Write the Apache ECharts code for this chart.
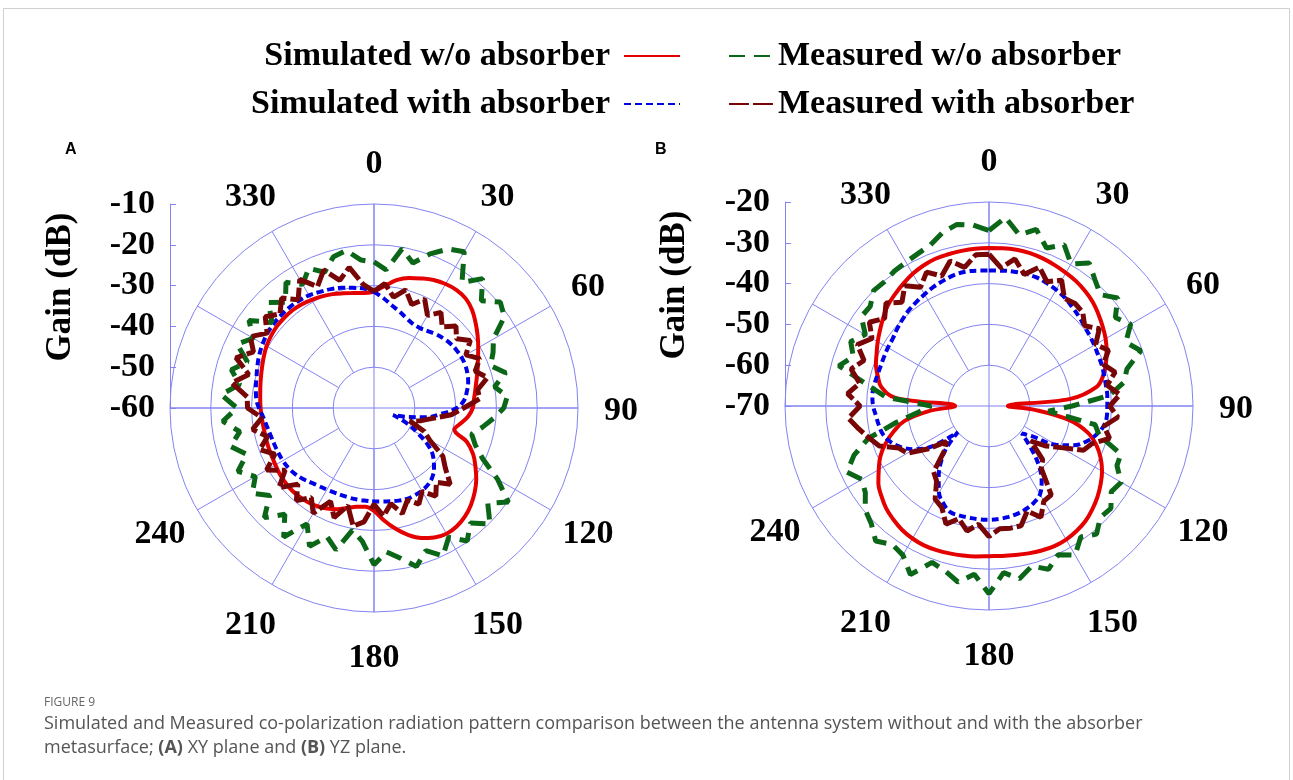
<!DOCTYPE html>
<html>
<head>
<meta charset="utf-8">
<title>Figure 9 - co-polarization radiation pattern</title>
<script src="https://cdn.jsdelivr.net/npm/echarts@6/dist/echarts.min.js"></script>
<style>
  html, body { margin: 0; padding: 0; background: #fff; }
  #chart { width: 1293px; height: 780px; }
</style>
</head>
<body>
<div id="chart"></div>
<script>
// sample angles (deg, clockwise from top), 5 deg step, closed at 360
const angles = [
  0, 5, 10, 15, 20, 25, 30, 35, 40, 45,
  50, 55, 60, 65, 70, 75, 80, 85, 90, 95,
  100, 105, 110, 115, 120, 125, 130, 135, 140, 145,
  150, 155, 160, 165, 170, 175, 180, 185, 190, 195,
  200, 205, 210, 215, 220, 225, 230, 235, 240, 245,
  250, 255, 260, 265, 270, 275, 280, 285, 290, 295,
  300, 305, 310, 315, 320, 325, 330, 335, 340, 345,
  350, 355, 360
]
// angle tick labels printed round the plots (270 and 300 sit under the gain scale)
const angleLabels = [0, 30, 60, 90, 120, 150, 180, 210, 240, 330]

// ---- (A) XY plane, gain in dB ----
const simNoAbsA = [
  -31.5, -30.0, -28.2, -27.0, -26.2, -25.4, -24.9, -24.7, -25.0, -26.0,
  -27.5, -29.0, -30.5, -31.9, -33.0, -34.0, -34.8, -35.4, -35.8, -36.8,
  -38.4, -39.6, -35.8, -33.2, -31.3, -29.4, -27.8, -26.4, -25.3, -24.6,
  -24.4, -25.0, -26.1, -27.8, -30.0, -32.4, -34.8, -35.7, -35.4, -34.6,
  -33.6, -32.8, -32.2, -31.8, -31.6, -31.5, -31.6, -31.8, -32.1, -32.3,
  -32.4, -32.5, -32.5, -32.4, -32.2, -32.0, -31.7, -31.3, -30.8, -30.2,
  -29.6, -29.2, -28.9, -28.8, -28.8, -29.0, -29.4, -29.8, -30.3, -30.9,
  -31.4, -31.7, -31.5
]
const simAbsA = [
  -31.5, -33.0, -34.5, -35.6, -36.6, -37.3, -37.4, -37.0, -36.4, -35.9,
  -35.5, -35.3, -35.2, -35.3, -35.6, -36.1, -36.9, -37.8, -39.7, -43.5,
  -47.0, -51.5, -55.0, -51.0, -47.5, -43.6, -41.0, -39.2, -37.8, -37.0,
  -36.6, -36.4, -36.3, -36.5, -36.8, -37.0, -37.1, -37.2, -37.2, -37.2,
  -37.2, -37.1, -36.9, -36.6, -36.1, -35.4, -34.8, -34.4, -34.2, -34.1,
  -34.0, -33.8, -33.4, -32.8, -31.8, -31.0, -30.6, -30.2, -29.6, -29.0,
  -28.5, -28.1, -27.9, -27.8, -27.8, -27.9, -28.1, -28.6, -29.0, -29.5,
  -30.1, -30.6, -31.5
]
const measNoAbsA = [
  -24.2, -26.0, -20.4, -23.2, -19.8, -17.0, -15.8, -22.4, -18.6, -22.8,
  -19.6, -21.0, -26.2, -27.8, -29.6, -26.6, -30.0, -27.2, -28.2, -30.6,
  -33.0, -35.2, -33.6, -30.6, -25.0, -19.8, -23.6, -19.8, -23.2, -20.2,
  -23.4, -20.0, -22.8, -19.8, -22.6, -24.6, -21.6, -27.2, -29.6, -24.0,
  -26.4, -22.6, -27.2, -21.4, -26.0, -22.0, -26.6, -23.6, -26.4, -23.2,
  -26.8, -23.6, -26.6, -22.8, -26.4, -22.4, -26.6, -23.8, -27.0, -23.0,
  -25.8, -22.6, -27.4, -23.4, -26.2, -22.4, -25.0, -22.2, -24.6, -21.6,
  -20.8, -23.6, -24.2
]
const measAbsA = [
  -31.4, -29.4, -32.4, -30.0, -33.0, -30.6, -33.8, -31.4, -34.0, -31.6,
  -33.6, -31.2, -34.0, -31.4, -33.6, -31.2, -34.2, -34.0, -38.0, -41.0,
  -45.4, -48.0, -50.6, -46.4, -44.2, -39.4, -37.2, -33.6, -36.2, -33.6,
  -36.4, -34.0, -36.0, -33.2, -36.2, -33.4, -36.4, -32.0, -30.6, -35.2,
  -31.4, -34.8, -30.2, -33.2, -30.4, -33.6, -29.6, -33.4, -29.6, -33.2,
  -30.2, -33.0, -29.8, -32.4, -29.0, -28.8, -24.6, -28.2, -24.0, -27.4,
  -25.0, -28.0, -25.2, -27.4, -24.8, -27.6, -23.6, -27.2, -24.0, -27.6,
  -25.0, -29.6, -31.4
]

// ---- (B) YZ plane, gain in dB ----
const simNoAbsB = [
  -31.3, -31.2, -31.1, -31.2, -31.5, -31.9, -32.3, -32.7, -33.3, -34.0,
  -35.0, -36.0, -37.0, -38.2, -39.5, -41.0, -43.3, -50.0, -65.4, -58.5,
  -50.0, -45.0, -42.0, -39.8, -38.0, -36.6, -35.3, -34.2, -33.2, -32.6,
  -32.2, -32.1, -32.3, -32.6, -32.9, -33.1, -33.2, -33.0, -32.8, -32.6,
  -32.4, -32.3, -32.5, -32.9, -33.6, -34.4, -35.6, -36.9, -38.8, -40.6,
  -43.0, -45.8, -49.0, -55.0, -61.7, -47.0, -43.2, -41.8, -40.5, -39.6,
  -38.5, -37.4, -36.2, -35.0, -34.2, -33.4, -32.6, -32.0, -31.6, -31.5,
  -31.4, -31.3, -31.3
]
const simAbsB = [
  -36.8, -36.7, -36.5, -36.4, -36.4, -36.7, -37.1, -37.6, -38.3, -38.9,
  -39.5, -39.9, -40.2, -40.5, -40.6, -40.8, -40.9, -40.9, -41.0, -41.0,
  -41.5, -42.8, -44.6, -47.2, -51.0, -57.0, -59.5, -55.5, -51.0, -47.5,
  -45.0, -43.9, -43.2, -42.7, -42.4, -42.2, -42.1, -42.1, -42.2, -42.2,
  -42.3, -43.6, -45.5, -48.5, -51.5, -55.0, -60.0, -52.5, -48.8, -46.2,
  -44.3, -43.1, -42.6, -42.2, -41.6, -41.3, -41.4, -41.6, -41.7, -41.6,
  -41.4, -41.2, -40.6, -40.0, -39.4, -38.9, -38.4, -37.8, -37.3, -36.8,
  -36.6, -36.7, -36.8
]
const measNoAbsB = [
  -27.0, -23.6, -27.4, -25.2, -28.8, -26.4, -29.8, -27.2, -29.6, -31.4,
  -28.8, -32.2, -29.9, -33.0, -30.4, -35.0, -36.4, -40.4, -49.6, -55.4,
  -43.6, -42.0, -35.6, -35.4, -32.6, -33.4, -31.0, -31.4, -29.0, -30.8,
  -27.8, -29.8, -27.4, -29.4, -27.0, -29.0, -24.0, -28.6, -26.2, -28.2,
  -29.2, -24.4, -27.8, -28.6, -26.8, -29.2, -30.4, -33.0, -34.0, -31.6,
  -34.8, -39.4, -47.0, -52.6, -55.8, -44.6, -39.6, -31.9, -34.6, -32.6,
  -35.0, -31.8, -32.0, -30.0, -30.2, -29.6, -29.3, -28.8, -28.0, -26.0,
  -24.8, -25.5, -27.0
]
const measAbsB = [
  -32.8, -36.0, -33.4, -36.6, -33.8, -36.4, -34.4, -37.8, -37.2, -37.5,
  -39.4, -37.0, -39.8, -37.7, -40.2, -38.0, -40.6, -37.8, -40.4, -38.3,
  -41.4, -39.4, -43.1, -44.4, -49.6, -52.9, -56.6, -51.4, -50.1, -43.4,
  -43.1, -39.9, -42.6, -39.6, -39.6, -39.8, -38.0, -40.9, -38.9, -41.4,
  -39.2, -42.6, -43.6, -47.6, -48.9, -54.6, -56.4, -51.6, -46.9, -45.6,
  -41.4, -39.6, -37.6, -35.4, -38.4, -35.2, -37.8, -35.0, -37.4, -34.4,
  -36.9, -34.2, -36.6, -34.3, -36.8, -34.0, -36.4, -33.8, -36.1, -33.2,
  -35.5, -32.8, -32.8
]

const gridColor = '#8383f2'
const serif = 'Liberation Serif'
const names = ['Simulated w/o absorber', 'Simulated with absorber', 'Measured w/o absorber', 'Measured with absorber']
const styles = [
  {color: '#e50000', width: 4, type: 'solid', smooth: 0.4},
  {color: '#0000e6', width: 4, type: [7, 4], smooth: 0.4},
  {color: '#0b6618', width: 5, type: [16, 9], smooth: false},
  {color: '#780606', width: 5, type: [20, 4], smooth: false}
]

const panels = [
  {center: [374, 408], min: -60, max: -10, gainLeft: 170, nameGap: 92, sets: [simNoAbsA, simAbsA, measNoAbsA, measAbsA]},
  {center: [989, 406], min: -70, max: -20, gainLeft: 785, nameGap: 93, sets: [simNoAbsB, simAbsB, measNoAbsB, measAbsB]}
]
const R = 204

let polar = [], angleAxis = [], radiusAxis = [], grid = [], xAxis = [], yAxis = [], series = []

panels.forEach((p, k) => {
  const base = k * 3
  // data polar: rings + cross lines
  polar.push({center: p.center, radius: R})
  // spokes every 30 deg, starting at the first ring
  polar.push({center: p.center, radius: [R / 5, R]})
  // ring carrying the angle labels
  polar.push({center: p.center, radius: 247})

  angleAxis.push({
    polarIndex: base, type: 'value', min: 0, max: 360, interval: 90,
    startAngle: 90, clockwise: true,
    axisLine: {show: false}, axisTick: {show: false}, axisLabel: {show: false},
    splitLine: {show: true, lineStyle: {color: gridColor, width: 1}}
  })
  angleAxis.push({
    polarIndex: base + 1, type: 'value', min: 0, max: 360, interval: 30,
    startAngle: 90, clockwise: true,
    axisLine: {show: false}, axisTick: {show: false}, axisLabel: {show: false},
    splitLine: {show: true, lineStyle: {color: gridColor, width: 1}}
  })
  angleAxis.push({
    polarIndex: base + 2, type: 'value', min: 0, max: 360,
    startAngle: 90, clockwise: true, show: false
  })

  radiusAxis.push({
    polarIndex: base, type: 'value', min: p.min, max: p.max, interval: 10,
    axisLine: {show: false}, axisTick: {show: false}, axisLabel: {show: false},
    splitLine: {show: true, lineStyle: {color: gridColor, width: 1}}
  })
  radiusAxis.push({polarIndex: base + 1, type: 'value', min: 0, max: 1, show: false})
  radiusAxis.push({polarIndex: base + 2, type: 'value', min: 0, max: 1, show: false})

  // separate gain scale on the left of each plot
  grid.push({left: p.gainLeft, top: p.center[1] - R, width: 10, height: R})
  xAxis.push({gridIndex: k, type: 'value', show: false})
  yAxis.push({
    gridIndex: k, type: 'value', min: p.min, max: p.max, interval: 10,
    axisLine: {show: true, lineStyle: {color: gridColor, width: 1}},
    axisTick: {show: true, inside: true, length: 6, lineStyle: {color: gridColor}},
    splitLine: {show: false},
    axisLabel: {margin: 15, color: '#000', fontFamily: serif, fontWeight: 'bold', fontSize: 34},
    name: 'Gain (dB)', nameLocation: 'middle', nameRotate: 90, nameGap: p.nameGap,
    nameTextStyle: {color: '#000', fontFamily: serif, fontWeight: 'bold', fontSize: 35, padding: [0, 0, 0, 38]}
  })

  p.sets.forEach((vals, i) => {
    const s = styles[i]
    series.push({
      name: names[i], type: 'line', coordinateSystem: 'polar', polarIndex: base,
      data: angles.map((a, j) => [vals[j], a]),
      symbol: 'none', smooth: s.smooth, color: s.color,
      lineStyle: {color: s.color, width: s.width, type: s.type, cap: 'butt'}
    })
  })

  // angle tick labels, centred on a ring just outside the plot
  series.push({
    type: 'scatter', coordinateSystem: 'polar', polarIndex: base + 2, silent: true,
    data: angleLabels.map(a => [1, a]),
    symbolSize: 1, itemStyle: {color: '#fff'},
    label: {
      show: true, position: 'inside', offset: [0, 3], formatter: (d) => String(d.value[1]),
      color: '#000', opacity: 1, textBorderWidth: 0,
      fontFamily: serif, fontWeight: 'bold', fontSize: 34
    }
  })
})

const legendText = {color: '#000', fontFamily: serif, fontWeight: 'bold', fontSize: 34, lineHeight: 40}

const option = {
  backgroundColor: '#fff',
  animation: false,
  title: [
    {text: 'A', left: 60, top: 137, textStyle: {fontFamily: 'Liberation Sans', fontWeight: 'bold', fontSize: 16, color: '#000'}},
    {text: 'B', left: 650, top: 137, textStyle: {fontFamily: 'Liberation Sans', fontWeight: 'bold', fontSize: 16, color: '#000'}},
    {text: 'FIGURE 9', left: 39, top: 692, textStyle: {fontFamily: 'Open Sans', fontWeight: 'normal', fontSize: 12, color: '#666'}},
    {
      text: '{n|Simulated and Measured co-polarization radiation pattern comparison between the antenna system without and with the absorber}\n' +
        '{n|metasurface; }{b|(A)}{n| XY plane and }{b|(B)}{n| YZ plane.}',
      left: 39, top: 707,
      textStyle: {
        fontWeight: 'normal',
        rich: {
          n: {fontFamily: 'Open Sans', fontSize: 18, fontWeight: 'normal', color: '#555', lineHeight: 24},
          b: {fontFamily: 'Open Sans', fontSize: 18, fontWeight: 'bold', color: '#555', lineHeight: 24}
        }
      }
    }
  ],
  legend: [
    {
      data: names.slice(0, 2), orient: 'vertical', align: 'right',
      right: 607, top: 31, itemWidth: 56, itemHeight: 10, itemGap: 8,
      itemStyle: {opacity: 0},
      textStyle: Object.assign({padding: [0, 9, 0, 0]}, legendText)
    },
    {
      data: names.slice(2), orient: 'vertical', align: 'left',
      left: 723, top: 31, itemWidth: 44, itemHeight: 10, itemGap: 8,
      itemStyle: {opacity: 0},
      textStyle: legendText
    }
  ],
  graphic: [
    {type: 'rect', silent: true, shape: {x: 3.5, y: 8.5, width: 1286, height: 790},
      style: {fill: 'none', stroke: '#cfcfcf', lineWidth: 1}}
  ],
  polar: polar,
  angleAxis: angleAxis,
  radiusAxis: radiusAxis,
  grid: grid,
  xAxis: xAxis,
  yAxis: yAxis,
  series: series
}

const chart = echarts.init(document.getElementById('chart'))
chart.setOption(option)
</script>
</body>
</html>
